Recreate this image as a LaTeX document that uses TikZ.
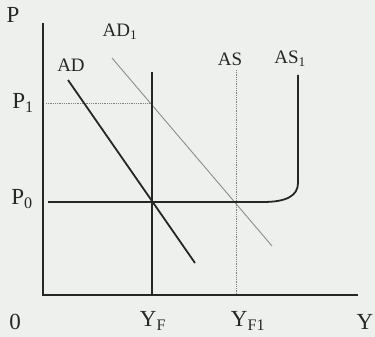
\documentclass[tikz,border=0pt]{standalone}
\usepackage{fontspec}
\setmainfont{Liberation Serif}
\begin{document}
\begin{tikzpicture}[x=1pt,y=-1pt,
  thick line/.style={line width=1.8pt,draw=black!85},
  thin gray/.style={line width=0.9pt,draw=black!45},
  dot gray/.style={line width=0.8pt,draw=black!50,densely dotted},
  biglab/.style={font=\fontsize{23}{23}\selectfont,inner sep=0pt,text=black!85},
  smlab/.style={font=\fontsize{19}{19}\selectfont,inner sep=0pt,text=black!85}]
\definecolor{bgc}{RGB}{238,240,238}
\fill[bgc] (0,0) rectangle (375,337);
\useasboundingbox (0,0) rectangle (375,337);
% coordinates
\coordinate (ytop) at (43,23);
\coordinate (O) at (43,295);
\coordinate (xend) at (358,295);
\coordinate (yftop) at (152,72);
\coordinate (yfbot) at (152,295);
\coordinate (p1s) at (46,103);
\coordinate (p1e) at (152,103);
\coordinate (p0s) at (48,202);
\coordinate (p0e) at (263,202);
\coordinate (as1b) at (298,183);
\coordinate (as1t) at (298,75);
\coordinate (astop) at (236,70);
\coordinate (asbot) at (236,295);
\coordinate (ads) at (68,80);
\coordinate (ade) at (195,263);
\coordinate (ad1s) at (112,58);
\coordinate (ad1e) at (272,246);
% lines
\draw[dot gray] (p1s) -- (p1e);
\draw[dot gray] (astop) -- (asbot);
\draw[thin gray] (ad1s) -- (ad1e);
\draw[thick line] (ytop) -- (O) -- (xend);
\draw[thick line] (yftop) -- (yfbot);
\draw[thick line] (ads) -- (ade);
\draw[thick line] (p0s) -- (p0e) .. controls (286,202) and (298,196) .. (as1b) -- (as1t);
% labels
\node[biglab] (P) at (13,15) {P};
\node[biglab] (zero) at (15,322) {0};
\node[biglab] (Y) at (365,322) {Y};
\node[biglab] (P1) at (23,103) {P\textsubscript{1}};
\node[biglab] (P0) at (22,199) {P\textsubscript{0}};
\node[biglab] (YF) at (153,321) {Y\textsubscript{F}};
\node[biglab] (YF1) at (248,321) {Y\textsubscript{F1}};
\node[smlab] (AD) at (71,65) {AD};
\node[smlab] (AD1) at (120,32) {AD\textsubscript{1}};
\node[smlab] (AS) at (230,59) {AS};
\node[smlab] (AS1) at (290,59) {AS\textsubscript{1}};
\end{tikzpicture}
\end{document}
